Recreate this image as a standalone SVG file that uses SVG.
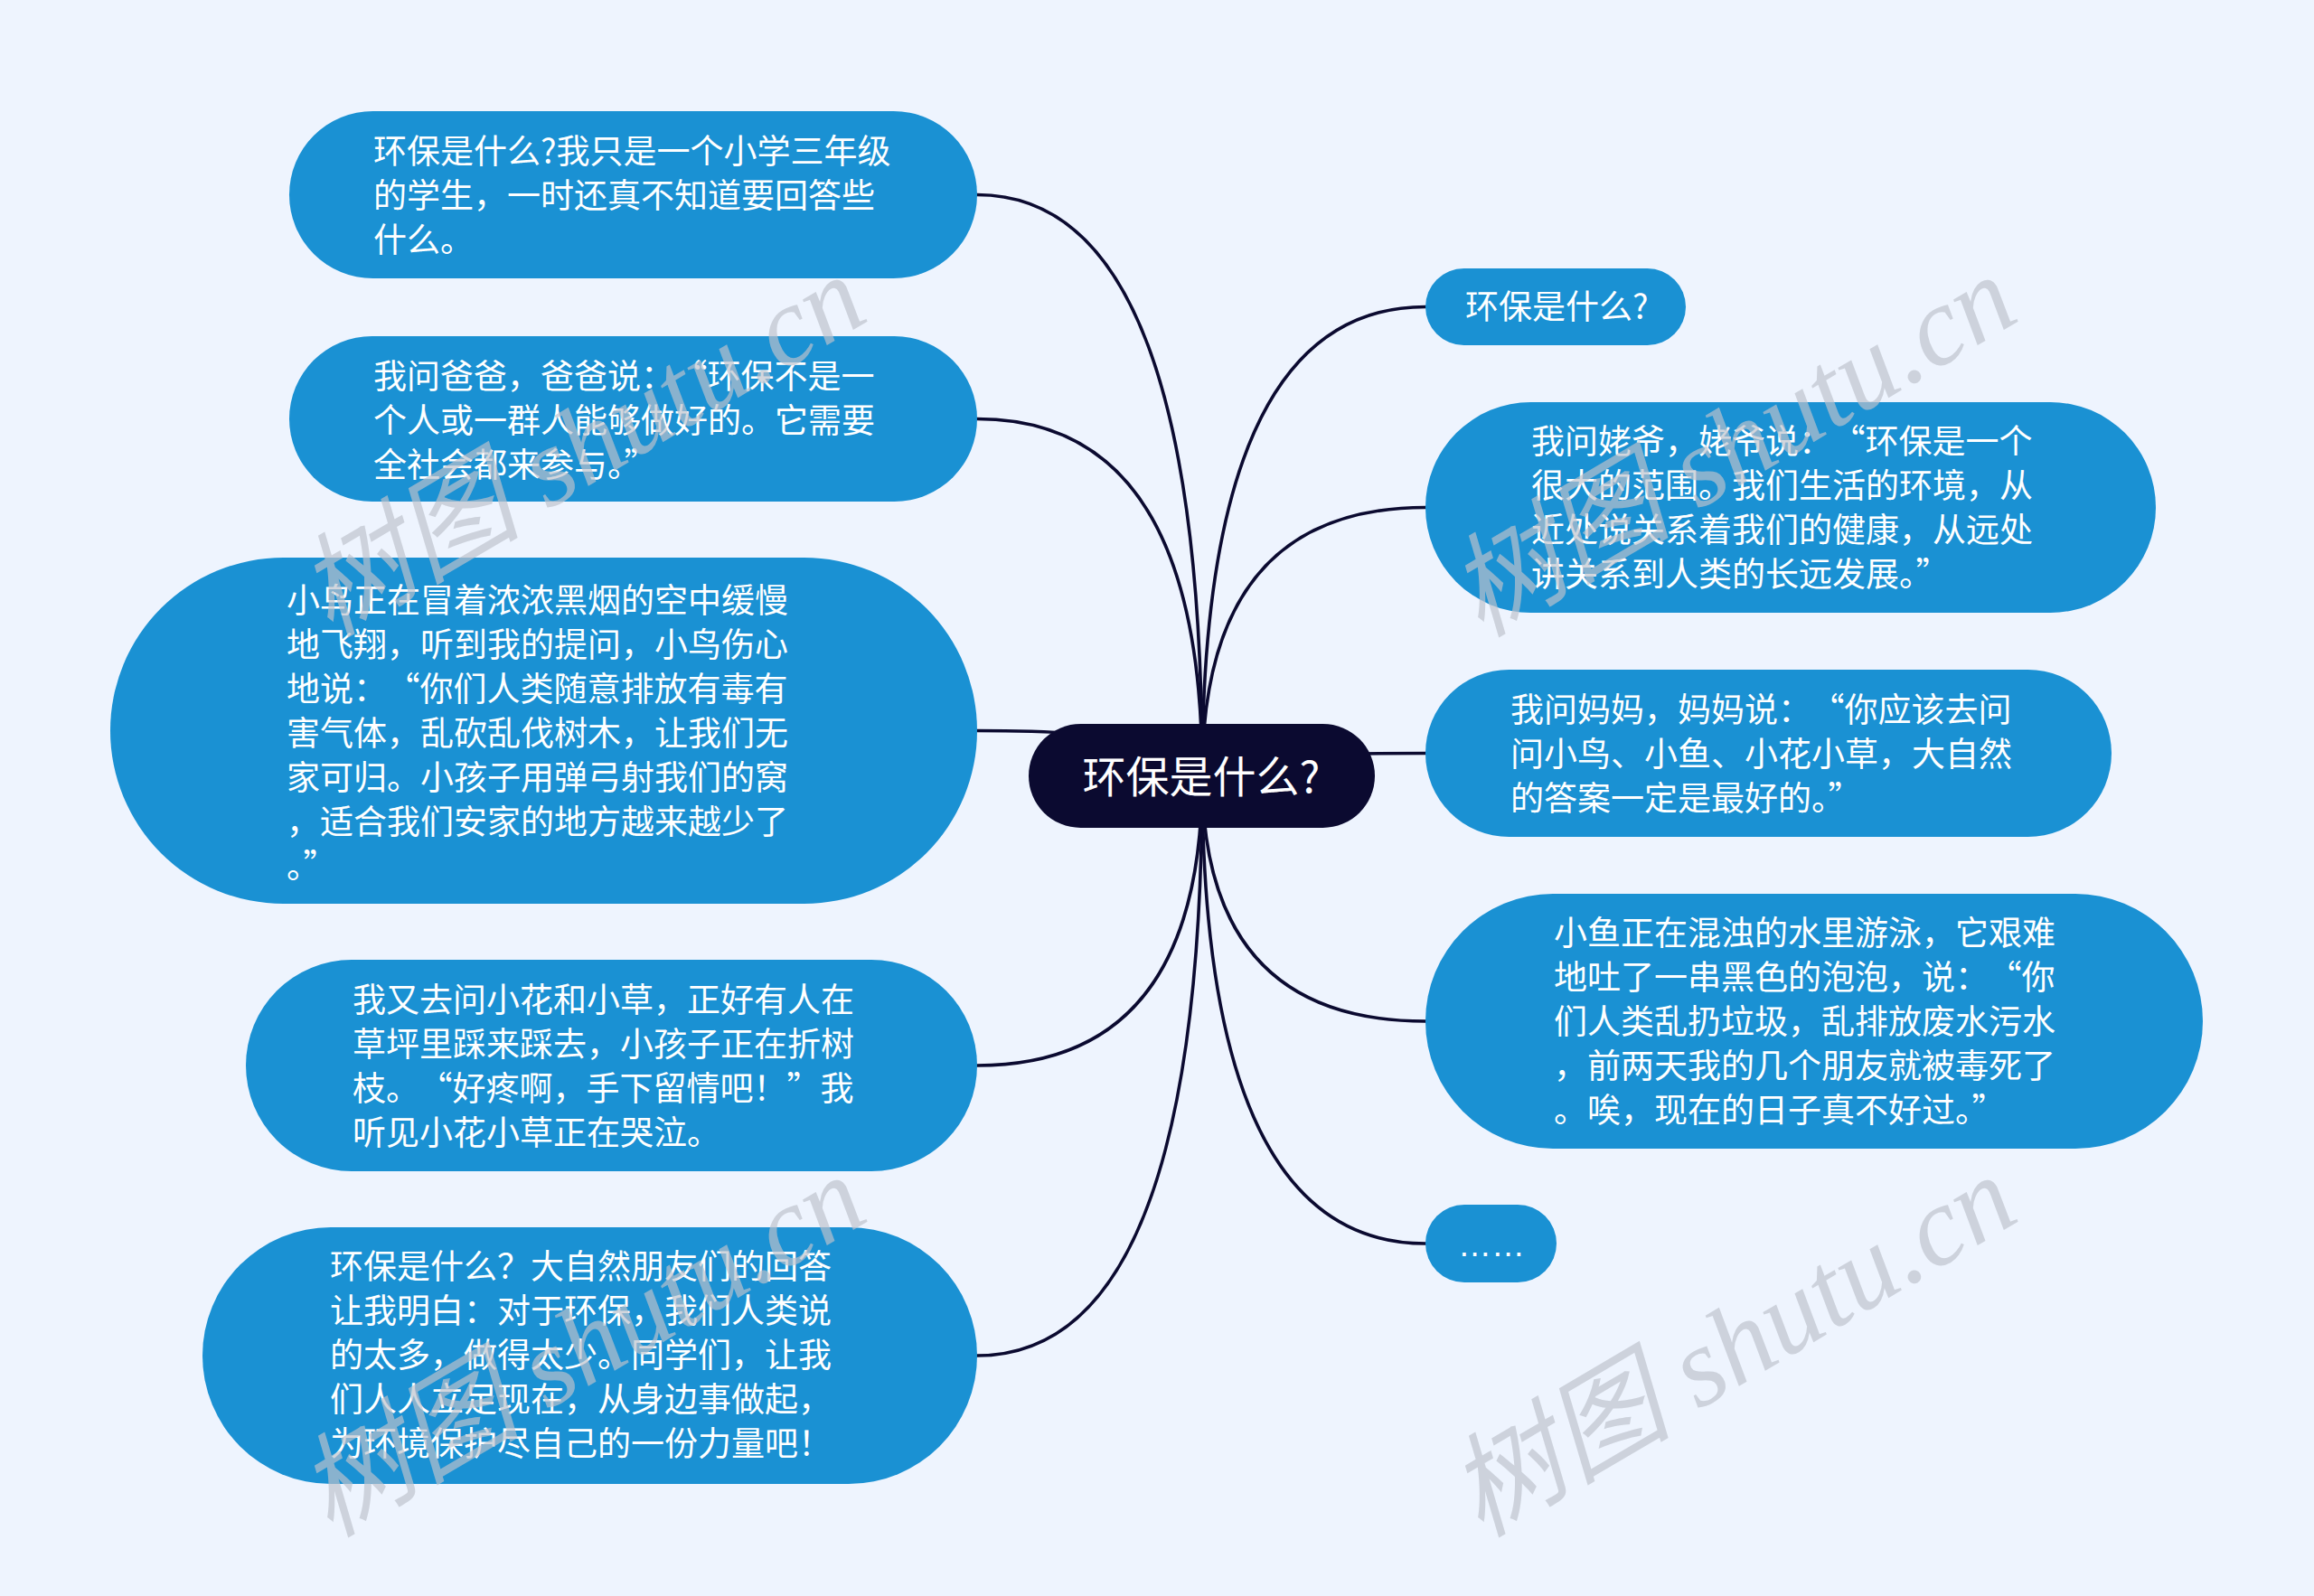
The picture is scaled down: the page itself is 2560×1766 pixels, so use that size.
<svg xmlns="http://www.w3.org/2000/svg" width="2560" height="1766" viewBox="0 0 2560 1766">
<style>
.bg{fill:#eef4fe}
.node{fill:#1a91d3}
.root{fill:#0b0a30}
.t{font-family:'Noto Sans CJK SC','Noto Sans',sans-serif;font-size:37px;fill:#ffffff}
.rt{font-family:'Noto Sans CJK SC','Noto Sans',sans-serif;font-size:48px;fill:#ffffff}
.dots{font-family:'Liberation Sans',sans-serif;font-size:37px;fill:#ffffff}
.link{fill:none;stroke:#0b0a30;stroke-width:3.6;stroke-linecap:round}
.wm{font-family:'Liberation Serif','Noto Sans CJK SC',serif;font-style:italic;font-size:124px;fill:#bec3cd;opacity:0.68}
</style>
<rect class="bg" x="0" y="0" width="2560" height="1766"/>
<g id="connectors">
<path class="link" d="M1330 858 Q1330 215.5 1081 215.5"/>
<path class="link" d="M1330 858 Q1330 463.5 1081 463.5"/>
<path class="link" d="M1330 858 Q1330 808.5 1081 808.5"/>
<path class="link" d="M1330 858 Q1330 1179 1081 1179"/>
<path class="link" d="M1330 858 Q1330 1500 1081 1500"/>
<path class="link" d="M1330 858 Q1330 339.5 1577 339.5"/>
<path class="link" d="M1330 858 Q1330 561.5 1577 561.5"/>
<path class="link" d="M1330 858 Q1330 833.5 1577 833.5"/>
<path class="link" d="M1330 858 Q1330 1130 1577 1130"/>
<path class="link" d="M1330 858 Q1330 1376 1577 1376"/>
</g>
<g id="root">
<rect class="root" x="1138" y="801" width="383" height="115" rx="57.5"/>
<text class="rt" x="1329" y="877" text-anchor="middle">环保是什么?</text>
</g>
<g id="node-l1">
<rect class="node" x="320" y="123" width="761" height="185" rx="92.5"/>
<text class="t" x="413" y="181">环保是什么?我只是一个小学三年级</text>
<text class="t" x="413" y="230">的学生，一时还真不知道要回答些</text>
<text class="t" x="413" y="279">什么。</text>
</g>
<g id="node-l2">
<rect class="node" x="320" y="372" width="761" height="183" rx="91.5"/>
<text class="t" x="413" y="430">我问爸爸，爸爸说：<tspan dx="18">“</tspan>环保不是一</text>
<text class="t" x="413" y="479">个人或一群人能够做好的。它需要</text>
<text class="t" x="413" y="528">全社会都来参与。”</text>
</g>
<g id="node-l3">
<rect class="node" x="122" y="617" width="959" height="383" rx="191.5"/>
<text class="t" x="317" y="678">小鸟正在冒着浓浓黑烟的空中缓慢</text>
<text class="t" x="317" y="727">地飞翔，听到我的提问，小鸟伤心</text>
<text class="t" x="317" y="776">地说：<tspan dx="18">“</tspan>你们人类随意排放有毒有</text>
<text class="t" x="317" y="825">害气体，乱砍乱伐树木，让我们无</text>
<text class="t" x="317" y="874">家可归。小孩子用弹弓射我们的窝</text>
<text class="t" x="317" y="923">，适合我们安家的地方越来越少了</text>
<text class="t" x="317" y="972">。”</text>
</g>
<g id="node-l4">
<rect class="node" x="272" y="1062" width="809" height="234" rx="117"/>
<text class="t" x="390" y="1120">我又去问小花和小草，正好有人在</text>
<text class="t" x="390" y="1169">草坪里踩来踩去，小孩子正在折树</text>
<text class="t" x="390" y="1218">枝。<tspan dx="18">“</tspan>好疼啊，手下留情吧！”我</text>
<text class="t" x="390" y="1267">听见小花小草正在哭泣。</text>
</g>
<g id="node-l5">
<rect class="node" x="224" y="1358" width="857" height="284" rx="142"/>
<text class="t" x="365" y="1415">环保是什么？大自然朋友们的回答</text>
<text class="t" x="365" y="1464">让我明白：对于环保，我们人类说</text>
<text class="t" x="365" y="1513">的太多，做得太少。同学们，让我</text>
<text class="t" x="365" y="1562">们人人立足现在，从身边事做起，</text>
<text class="t" x="365" y="1611">为环境保护尽自己的一份力量吧！</text>
</g>
<g id="node-r1">
<rect class="node" x="1577" y="297" width="288" height="85" rx="42.5"/>
<text class="t" x="1621" y="353">环保是什么?</text>
</g>
<g id="node-r2">
<rect class="node" x="1577" y="445" width="808" height="233" rx="116.5"/>
<text class="t" x="1694" y="502">我问姥爷，姥爷说：<tspan dx="18">“</tspan>环保是一个</text>
<text class="t" x="1694" y="551">很大的范围。我们生活的环境，从</text>
<text class="t" x="1694" y="600">近处说关系着我们的健康，从远处</text>
<text class="t" x="1694" y="649">讲关系到人类的长远发展。”</text>
</g>
<g id="node-r3">
<rect class="node" x="1577" y="741" width="759" height="185" rx="92.5"/>
<text class="t" x="1671" y="799">我问妈妈，妈妈说：<tspan dx="18">“</tspan>你应该去问</text>
<text class="t" x="1671" y="848">问小鸟、小鱼、小花小草，大自然</text>
<text class="t" x="1671" y="897">的答案一定是最好的。”</text>
</g>
<g id="node-r4">
<rect class="node" x="1577" y="989" width="860" height="282" rx="141"/>
<text class="t" x="1719" y="1046">小鱼正在混浊的水里游泳，它艰难</text>
<text class="t" x="1719" y="1095">地吐了一串黑色的泡泡，说：<tspan dx="18">“</tspan>你</text>
<text class="t" x="1719" y="1144">们人类乱扔垃圾，乱排放废水污水</text>
<text class="t" x="1719" y="1193">，前两天我的几个朋友就被毒死了</text>
<text class="t" x="1719" y="1242">。唉，现在的日子真不好过。”</text>
</g>
<g id="node-r5">
<rect class="node" x="1577" y="1333" width="145" height="86" rx="43"/>
<text class="dots" x="1650" y="1390" text-anchor="middle">……</text>
</g>
<g id="watermark">
<text class="wm" transform="translate(365 706) rotate(-30.5)">树图 shutu.cn</text>
<text class="wm" transform="translate(1638 706) rotate(-30.5)">树图 shutu.cn</text>
<text class="wm" transform="translate(365 1702) rotate(-30.5)">树图 shutu.cn</text>
<text class="wm" transform="translate(1638 1702) rotate(-30.5)">树图 shutu.cn</text>
</g>
</svg>
